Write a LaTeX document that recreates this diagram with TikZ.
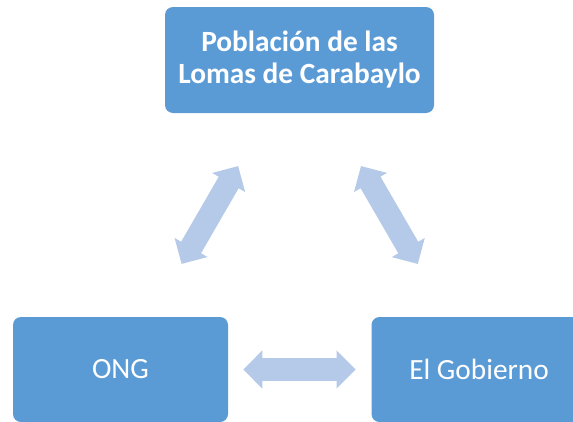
\documentclass[tikz,border=0pt]{standalone}
\usepackage{fontspec}
\setmainfont{Carlito}
\usetikzlibrary{arrows.meta}

\definecolor{boxblue}{RGB}{91,155,213}
\definecolor{arrowblue}{RGB}{181,202,232}

\begin{document}
\begin{tikzpicture}[x=0.75pt, y=-0.75pt,
    box/.style={rectangle, rounded corners=6pt, fill=boxblue, text=white, align=center, inner sep=0pt, font=\fontsize{22}{24}\selectfont},
    link/.style={draw=arrowblue, line width=17.25pt, >={Triangle[length=14.25pt, width=27.75pt]}, <->}]
    % Canvas
    \useasboundingbox (0,0) rectangle (573,421);

    % Top box
    \node (pobl) at (299.5,60) [box, minimum width=201.75pt, minimum height=79.5pt, font=\fontsize{22}{24}\selectfont\bfseries] {Población de las\\Lomas de Carabaylo};

    % Bottom row
    \node (ong) at (120.5,369.5) [box, minimum width=161.25pt, minimum height=78.75pt] {ONG};
    \node (gob) at (479,369.5) [box, minimum width=161.25pt, minimum height=78.75pt] {El Gobierno};

    % Double arrows
    \draw[link, shorten <=45.75pt, shorten >=45.75pt] (ong) -- (pobl);
    \draw[link, shorten <=45.75pt, shorten >=45.75pt] (pobl) -- (gob);
    \draw[link, shorten <=11.25pt, shorten >=11.75pt] (ong) -- (gob);
\end{tikzpicture}
\end{document}
